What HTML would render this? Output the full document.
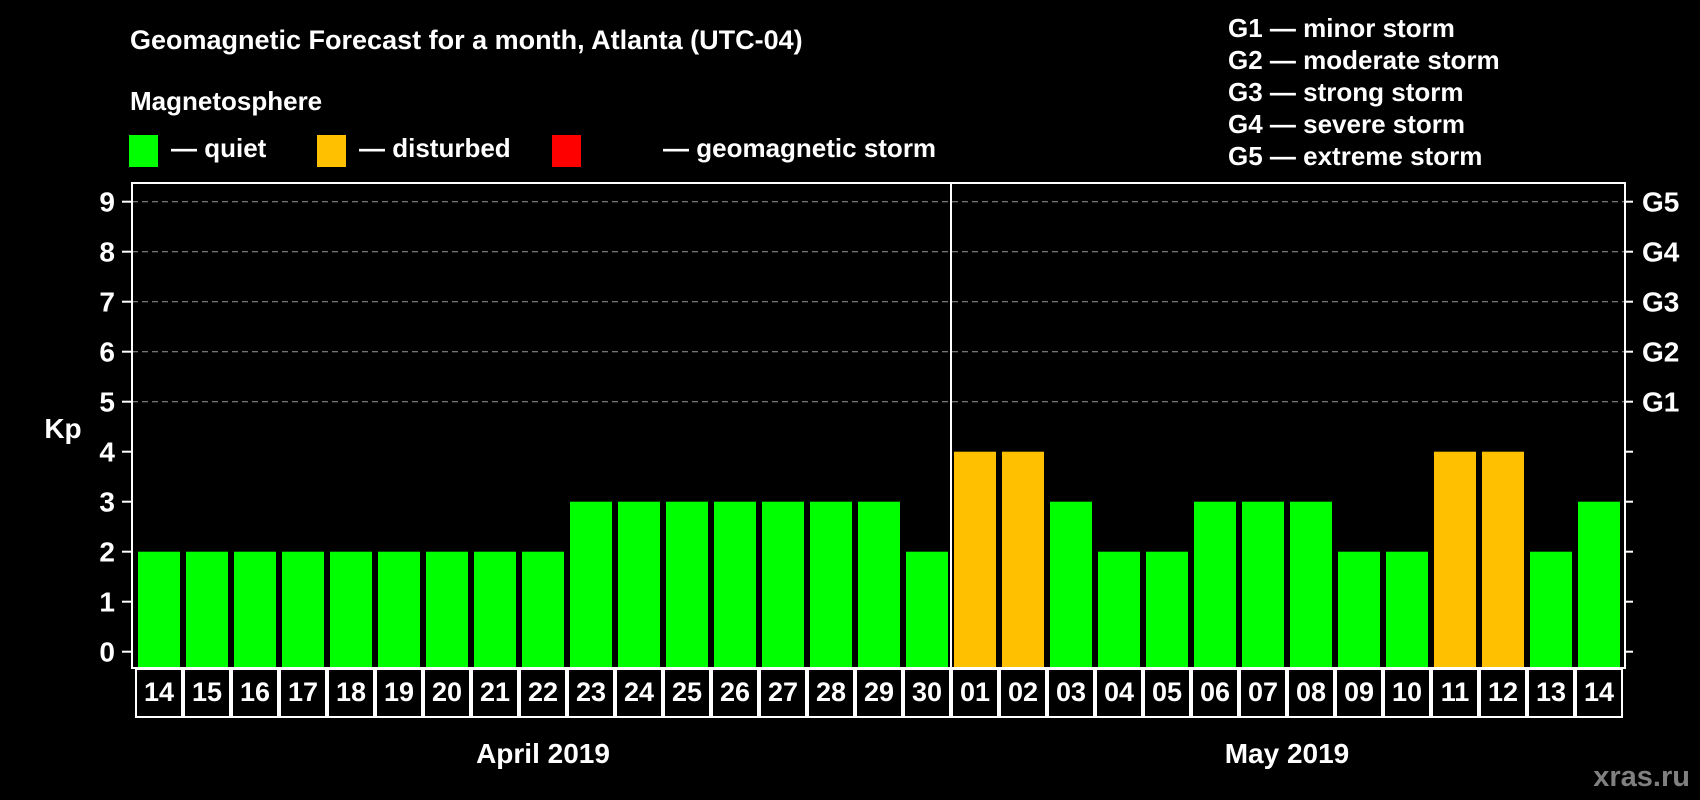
<!DOCTYPE html>
<html><head><meta charset="utf-8"><style>
html,body{margin:0;padding:0;background:#000;}
svg{display:block;font-family:"Liberation Sans",sans-serif;font-weight:bold;}
</style></head><body>
<svg id="chart" width="1700" height="800" viewBox="0 0 1700 800">
<rect x="0" y="0" width="1700" height="800" fill="#000"/>
<text x="130" y="49" font-size="27" fill="#fff">Geomagnetic Forecast for a month, Atlanta (UTC-04)</text>
<text x="130" y="110" font-size="26" fill="#fff">Magnetosphere</text>
<g>
<rect x="129" y="135" width="29" height="32" fill="#00ff00"/>
<text x="171" y="157" font-size="26" fill="#fff">— quiet</text></g>
<g>
<rect x="317" y="135" width="29" height="32" fill="#ffc000"/>
<text x="359" y="157" font-size="26" fill="#fff">— disturbed</text></g>
<g>
<rect x="552" y="135" width="29" height="32" fill="#ff0000"/>
<text x="663" y="157" font-size="26" fill="#fff">— geomagnetic storm</text></g>
<g font-size="26" fill="#fff">
<text x="1228" y="37">G1 — minor storm</text>
<text x="1228" y="69">G2 — moderate storm</text>
<text x="1228" y="101">G3 — strong storm</text>
<text x="1228" y="133">G4 — severe storm</text>
<text x="1228" y="165">G5 — extreme storm</text>
</g>
<text x="63" y="438" font-size="28" fill="#fff" text-anchor="middle">Kp</text>
<text x="1690" y="786" font-size="29" fill="#808080" text-anchor="end">xras.ru</text>
<g id="plot"></g>
</svg>
<script>
const days = ["14","15","16","17","18","19","20","21","22","23","24","25","26","27","28","29","30","01","02","03","04","05","06","07","08","09","10","11","12","13","14"];
const kp = [2,2,2,2,2,2,2,2,2,3,3,3,3,3,3,3,2,4,4,3,2,2,3,3,3,2,2,4,4,2,3];
const yTicks = [0,1,2,3,4,5,6,7,8,9];
const gLabels = ["G1","G2","G3","G4","G5"];
const gLevels = [5,6,7,8,9];
const months = ["April 2019","May 2019"];
const monthDays = [17,14];

const NS="http://www.w3.org/2000/svg";
const plot=document.getElementById('plot');
const L=132,R=1625,T=183,B=668,cellX0=135,cellW=48;
function y(v){return 651.7-v*50;}
function x(i){return cellX0+i*cellW;}
function mk(tag,attrs,parent){const e=document.createElementNS(NS,tag);for(const k in attrs)e.setAttribute(k,attrs[k]);(parent||plot).appendChild(e);return e;}

gLevels.forEach((v,i)=>{
  const ln=mk('line',{x1:L,x2:R,y1:y(v),y2:y(v),stroke:'#999','stroke-width':1,'stroke-dasharray':'6 4'});
  
  
  const t=mk('text',{x:1642,y:y(v)+10,'font-size':28,fill:'#fff'});
  t.textContent=gLabels[i];
  
  
});
yTicks.forEach(v=>{
  const tk=mk('line',{x1:122,x2:L,y1:y(v),y2:y(v),stroke:'#fff','stroke-width':2});
  
  
  const tr=mk('line',{x1:R,x2:1633,y1:y(v),y2:y(v),stroke:'#fff','stroke-width':2});
  
  
  const t=mk('text',{x:115,y:y(v)+10,'font-size':28,fill:'#fff','text-anchor':'end'});
  t.textContent=v;
  
  
});
kp.forEach((v,i)=>{
  const c=v>=5?'#ff0000':(v>=4?'#ffc000':'#00ff00');
  const r=mk('rect',{x:x(i)+3,y:y(v),width:42,height:B-y(v),fill:c});
  
  
});
const frame=mk('rect',{x:L,y:T,width:R-L,height:B-T,fill:'none',stroke:'#fff','stroke-width':2});


const div=mk('line',{x1:x(monthDays[0]),x2:x(monthDays[0]),y1:T,y2:B,stroke:'#fff','stroke-width':2});


days.forEach((d,i)=>{
  const c=mk('rect',{x:x(i)+1,y:669,width:cellW-2,height:48,fill:'none',stroke:'#fff','stroke-width':2});
  
  
  const t=mk('text',{x:x(i)+cellW/2,y:701,'font-size':27,fill:'#fff','text-anchor':'middle'});
  t.textContent=d;
  
  
});
let start=0;
months.forEach((m,i)=>{
  const cx=(x(start)+x(start+monthDays[i]))/2;
  const t=mk('text',{x:cx,y:763,'font-size':28,fill:'#fff','text-anchor':'middle'});
  t.textContent=m;
  
  
  start+=monthDays[i];
});
</script>
</body></html>
